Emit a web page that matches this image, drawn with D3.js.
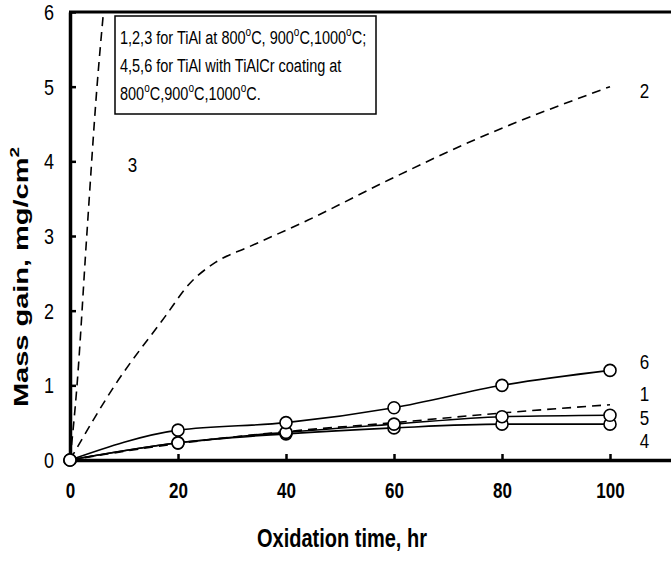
<!DOCTYPE html>
<meta charset="utf-8">
<style>
    body { margin: 0; background: #fff; }
    svg { display: block; }
    text { font-family: "Liberation Sans", Arial, sans-serif; fill: #000; }
    .line { fill: none; stroke: #000; stroke-width: 1.6px; }
    .dash { stroke-dasharray: 9, 6; }
    .pt { fill: #fff; stroke: #000; stroke-width: 1.6px; }
</style>
<body>
<svg width="671" height="569"></svg>
</body>
<script src="https://cdnjs.cloudflare.com/ajax/libs/d3/7.8.5/d3.min.js"></script>
<script>
    // hours
    const times = [0, 20, 40, 60, 80, 100];
    const s4 = [0, 0.23, 0.35, 0.43, 0.48, 0.48];
    const s5 = [0, 0.23, 0.37, 0.48, 0.58, 0.60];
    const s6 = [0, 0.40, 0.50, 0.70, 1.00, 1.20];
    // uncoated TiAl (dashed, no markers)
    const s1x = [0, 20, 40, 60, 80, 100];
    const s1y = [0, 0.22, 0.38, 0.50, 0.63, 0.74];
    const s2x = [0, 8.3, 17.6, 22, 27, 33, 44, 59, 75, 100];
    const s2y = [0, 1.0, 1.92, 2.35, 2.65, 2.85, 3.21, 3.75, 4.29, 5.0];
    const s3x = [0, 1.3, 3.1, 5.0, 6.2];
    const s3y = [0, 1.0, 3.0, 5.0, 6.0];
    const xTicks = [0, 20, 40, 60, 80, 100];
    const yTicks = [0, 1, 2, 3, 4, 5, 6];

    const svg = d3.select("svg");
    const x = d3.scaleLinear().domain([0, 120]).range([70, 718]);
    const y = d3.scaleLinear().domain([0, 6]).range([460, 12]);

    const zip = (a, b) => a.map((v, i) => [v, b[i]]);
    const line = d3.line().x(d => x(d[0])).y(d => y(d[1])).curve(d3.curveMonotoneX);

    // the scan is stretched vertically, so text is drawn taller than wide
    const tall = (sel, k) => sel.each(function () {
        const t = d3.select(this);
        const tx = +t.attr("x") || 0, ty = +t.attr("y") || 0;
        t.attr("transform", `translate(${tx},${ty}) scale(1,${k}) translate(${-tx},${-ty})`);
    });

    // frame
    svg.append("line").attr("x1", 69).attr("x2", 671).attr("y1", y(6)).attr("y2", y(6))
        .attr("stroke", "#000").attr("stroke-width", 3);

    const xAxis = svg.append("g").attr("transform", "translate(0," + y(0) + ")")
        .call(d3.axisBottom(x).tickValues(xTicks).tickSizeInner(-6).tickSizeOuter(0).tickPadding(0));
    xAxis.select(".domain").attr("stroke-width", 3.5);
    xAxis.selectAll(".tick line").attr("stroke-width", 2.5);
    xAxis.selectAll("text").attr("y", 31).attr("dy", "0.35em")
        .attr("font-size", 17).attr("font-weight", "bold")
        .style("font-family", "'Liberation Sans', Arial, sans-serif")
        .call(tall, 1.25);

    const yAxis = svg.append("g").attr("transform", "translate(" + x(0) + ",0)")
        .call(d3.axisLeft(y).tickValues(yTicks).tickFormat(d3.format("d"))
            .tickSizeInner(-6).tickSizeOuter(0).tickPadding(0));
    yAxis.select(".domain").attr("stroke-width", 3.5);
    yAxis.selectAll(".tick line").attr("stroke-width", 2.5);
    yAxis.selectAll("text").attr("x", -16).attr("y", 0).attr("dy", "0.35em").attr("font-size", 18)
        .style("font-family", "'Liberation Sans', Arial, sans-serif")
        .call(tall, 1.2);

    // curves
    const plot = svg.append("g");
    plot.append("path").attr("class", "line dash").attr("d", line(zip(s1x, s1y)));
    plot.append("path").attr("class", "line dash").attr("d", line(zip(s2x, s2y)));
    plot.append("path").attr("class", "line dash").attr("d", line(zip(s3x, s3y)));
    [s4, s5, s6].forEach(s => {
        const pts = zip(times, s);
        plot.append("path").attr("class", "line").attr("d", line(pts));
        plot.selectAll(null).data(pts).enter().append("circle")
            .attr("class", "pt").attr("r", 6)
            .attr("cx", d => x(d[0])).attr("cy", d => y(d[1]));
    });

    // curve numbers
    const labels = [
        {t: "3", xv: 10.7, yv: 3.95},
        {t: "2", xv: 105.5, yv: 4.95},
        {t: "6", xv: 105.5, yv: 1.31},
        {t: "1", xv: 105.5, yv: 0.88},
        {t: "5", xv: 105.5, yv: 0.57},
        {t: "4", xv: 105.5, yv: 0.26}
    ];
    svg.selectAll(null).data(labels).enter().append("text")
        .attr("x", d => x(d.xv)).attr("y", d => y(d.yv))
        .attr("font-size", 17).attr("dy", "0.35em").text(d => d.t)
        .call(tall, 1.2);

    // note box
    svg.append("rect").attr("x", 115).attr("y", 16).attr("width", 261).attr("height", 98)
        .attr("fill", "#fff").attr("stroke", "#000").attr("stroke-width", 1.5);
    const note = [
        ["1,2,3 for TiAl at 800", "C, 900", "C,1000", "C;"],
        ["4,5,6 for TiAl with TiAlCr coating at"],
        ["800", "C,900", "C,1000", "C."]
    ];
    note.forEach((parts, i) => {
        const t = svg.append("text").attr("x", 120).attr("y", 44 + i * 28).attr("font-size", 14.5);
        parts.forEach((p, j) => {
            if (j > 0) t.append("tspan").attr("dy", -6).attr("font-size", 10).text("o");
            t.append("tspan").attr("dy", j > 0 ? 6 : 0).text(p);
        });
        t.call(tall, 1.3);
    });

    // axis titles
    svg.append("text").attr("x", x(50) + 2).attr("y", 547).attr("text-anchor", "middle")
        .attr("font-size", 20).attr("font-weight", "bold").text("Oxidation time, hr")
        .call(tall, 1.25);

    const yt = svg.append("text").attr("transform", "translate(28," + y(2.45) + ") rotate(-90) scale(1.45,1)")
        .attr("text-anchor", "middle").attr("font-size", 20).attr("font-weight", "bold");
    yt.append("tspan").text("Mass gain, mg/cm");
    yt.append("tspan").attr("dy", -9).attr("font-size", 13).text("2");
</script>
